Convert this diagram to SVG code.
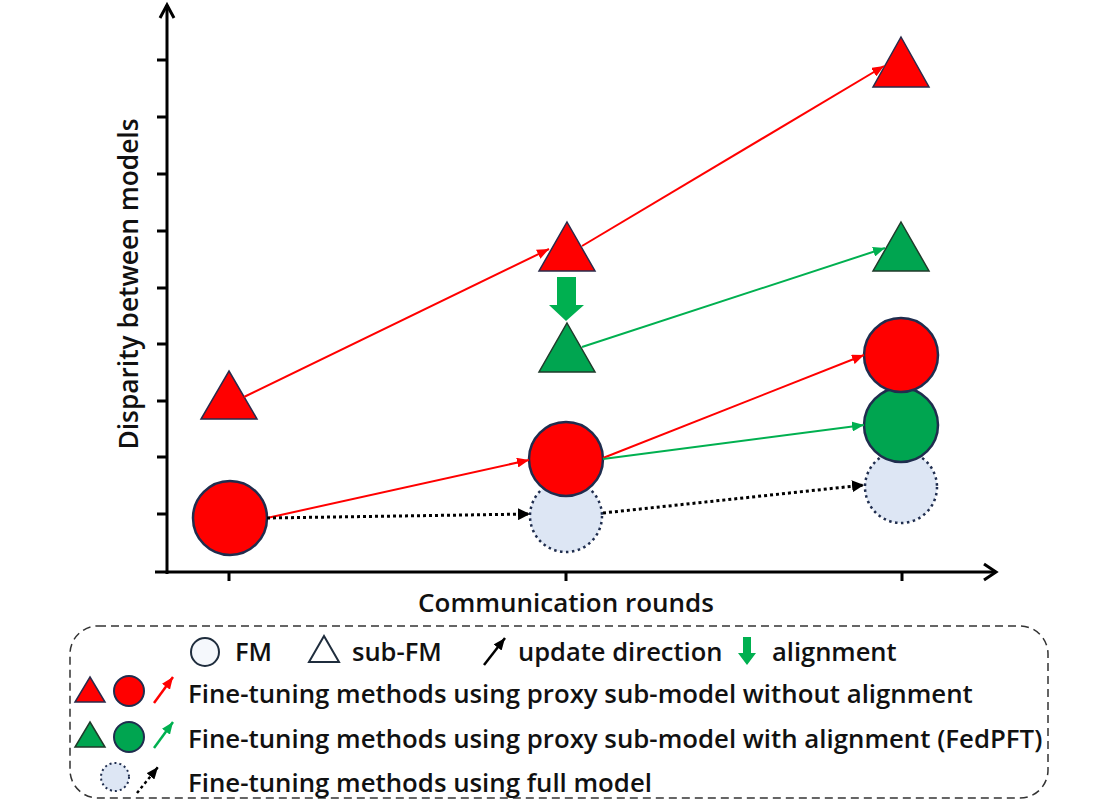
<svg xmlns="http://www.w3.org/2000/svg" width="1116" height="804" viewBox="0 0 1116 804">
<style>
.ax{stroke:#000;stroke-width:3;fill:none}
.tk{stroke:#000;stroke-width:3}
.rl{stroke:#ff0000;stroke-width:2;fill:none}
.gl{stroke:#00b050;stroke-width:2;fill:none}
.dl{stroke:#000;stroke-width:3;stroke-dasharray:3 3;fill:none}
.red{fill:#ff0000;stroke:#1f2d4e;stroke-width:2.5}
.grn{fill:#00a550;stroke:#1f2d4e;stroke-width:2.5}
.rtri{fill:#ff0000;stroke:#2a2a4a;stroke-width:1.5}
.gtri{fill:#00a550;stroke:#1f3a2a;stroke-width:1.5}
.fm{fill:#dde6f4;stroke:#1f2d4e;stroke-width:2.5;stroke-dasharray:2.5 3.5}
.t{font-family:"Open Sans","Liberation Sans",sans-serif;font-weight:600;fill:#111}
.lg{font-size:25.8px}
.l1{font-size:25.5px}
</style>
<defs>
<marker id="ar" viewBox="0 0 12 10" refX="12" refY="5" markerWidth="12" markerHeight="10" markerUnits="userSpaceOnUse" orient="auto"><path d="M0,0 L12,5 L0,10 Z" fill="#ff0000"/></marker>
<marker id="ag" viewBox="0 0 12 10" refX="12" refY="5" markerWidth="12" markerHeight="10" markerUnits="userSpaceOnUse" orient="auto"><path d="M0,0 L12,5 L0,10 Z" fill="#00b050"/></marker>
<marker id="ak" viewBox="0 0 12 10" refX="12" refY="5" markerWidth="12" markerHeight="10" markerUnits="userSpaceOnUse" orient="auto"><path d="M0,0 L12,5 L0,10 Z" fill="#000"/></marker>
<marker id="ak2" viewBox="0 0 12 12" refX="12" refY="6" markerWidth="12" markerHeight="12" markerUnits="userSpaceOnUse" orient="auto"><path d="M0,0 L12,6 L0,12 Z" fill="#000"/></marker>
</defs>
<rect width="1116" height="804" fill="#fff"/>
<g id="axes">
<path class="ax" d="M167,574 L167,5"/>
<path class="ax" d="M160,18 L167,5 L174,18"/>
<path class="ax" d="M155,572 L996,572"/>
<path class="ax" d="M984,564 L996,572 L984,580"/>
<path class="tk" d="M157,60 H167 M157,117 H167 M157,174 H167 M157,231 H167 M157,288 H167 M157,344 H167 M157,401 H167 M157,457 H167 M157,514 H167"/>
<path class="tk" d="M229,572 V581 M566,572 V581 M902,572 V581"/>
<text class="t" x="566" y="612" font-size="26" text-anchor="middle">Communication rounds</text>
<text class="t" transform="translate(138,284) rotate(-90)" font-size="26.3" text-anchor="middle">Disparity between models</text>
</g>
<g id="fm-round2"><circle class="fm" cx="566" cy="516" r="36"/></g>
<g id="fm-round3"><circle class="fm" cx="901" cy="487" r="36"/></g>
<g id="sub-red-1"><path class="rtri" d="M229,371 L257,419 L201,419 Z"/></g>
<g id="sub-red-2"><path class="rtri" d="M567,222 L595,271 L539,271 Z"/></g>
<g id="sub-green-2"><path class="gtri" d="M567,323 L595,372 L539,372 Z"/></g>
<g id="sub-red-3"><path class="rtri" d="M901,37 L929,87 L873,87 Z"/></g>
<g id="sub-green-3"><path class="gtri" d="M901,222 L929,271 L873,271 Z"/></g>
<g id="alignment"><polygon points="557,277 576,277 576,305 584,305 566,321 549,305 557,305" fill="#00b050"/></g>
<g id="model-red-1"><circle class="red" cx="230" cy="518" r="37"/></g>
<g id="model-red-2"><circle class="red" cx="566" cy="459" r="37"/></g>
<g id="model-green-3"><circle class="grn" cx="901" cy="425" r="37"/></g>
<g id="model-red-3"><circle class="red" cx="901" cy="355" r="37"/></g>
<g id="connectors">
<line class="rl" x1="244" y1="397" x2="549" y2="249" marker-end="url(#ar)"/>
<line class="rl" x1="582" y1="246" x2="884" y2="66" marker-end="url(#ar)"/>
<line class="gl" x1="582" y1="347" x2="885" y2="248" marker-end="url(#ag)"/>
<line class="rl" x1="267" y1="518" x2="529" y2="460" marker-end="url(#ar)"/>
<line class="rl" x1="603" y1="458" x2="864" y2="355" marker-end="url(#ar)"/>
<line class="gl" x1="603" y1="459" x2="864" y2="425" marker-end="url(#ag)"/>
<line class="dl" x1="267" y1="518" x2="530" y2="514" marker-end="url(#ak2)"/>
<line class="dl" x1="603" y1="513" x2="864" y2="485" marker-end="url(#ak2)"/>
</g>
<g id="legend">
<rect x="70" y="626" width="978" height="172" rx="28" fill="none" stroke="#333" stroke-width="1.5" stroke-dasharray="8 5"/>
<circle cx="205" cy="652" r="14" fill="#f5f8fc" stroke="#1f2d3d" stroke-width="2"/>
<text class="t l1" x="235" y="661">FM</text>
<path d="M324,636 L339,662 L309,662 Z" fill="#fff" stroke="#1f2d3d" stroke-width="2"/>
<text class="t l1" x="352" y="661">sub-FM</text>
<line x1="484" y1="665" x2="505" y2="638" stroke="#000" stroke-width="2.5" marker-end="url(#ak)"/>
<text class="t l1" x="518" y="661">update direction</text>
<polygon points="743,637 751,637 751,653 756,653 747,665 738,653 743,653" fill="#00b050"/>
<text class="t l1" x="772" y="661">alignment</text>
<path class="rtri" d="M90,677 L105,702 L75,702 Z"/>
<circle cx="129" cy="691" r="15" fill="#ff0000" stroke="#1f2d4e" stroke-width="2"/>
<line x1="154" y1="703" x2="173" y2="677" stroke="#ff0000" stroke-width="2.5" marker-end="url(#ar)"/>
<text class="t lg" x="188" y="703">Fine-tuning methods using proxy sub-model without alignment</text>
<path class="gtri" d="M90,722 L105,747 L75,747 Z"/>
<circle cx="129" cy="737" r="15" fill="#00a550" stroke="#1f2d4e" stroke-width="2"/>
<line x1="154" y1="748" x2="173" y2="722" stroke="#00b050" stroke-width="2.5" marker-end="url(#ag)"/>
<text class="t lg" x="188" y="748">Fine-tuning methods using proxy sub-model with alignment (FedPFT)</text>
<circle cx="115" cy="777" r="14" fill="#dde6f4" stroke="#1f2d4e" stroke-width="2" stroke-dasharray="2 3"/>
<line x1="137" y1="793" x2="158" y2="767" stroke="#000" stroke-width="2.5" stroke-dasharray="3 3" marker-end="url(#ak)"/>
<text class="t lg" x="188" y="792">Fine-tuning methods using full model</text>
</g>
</svg>
